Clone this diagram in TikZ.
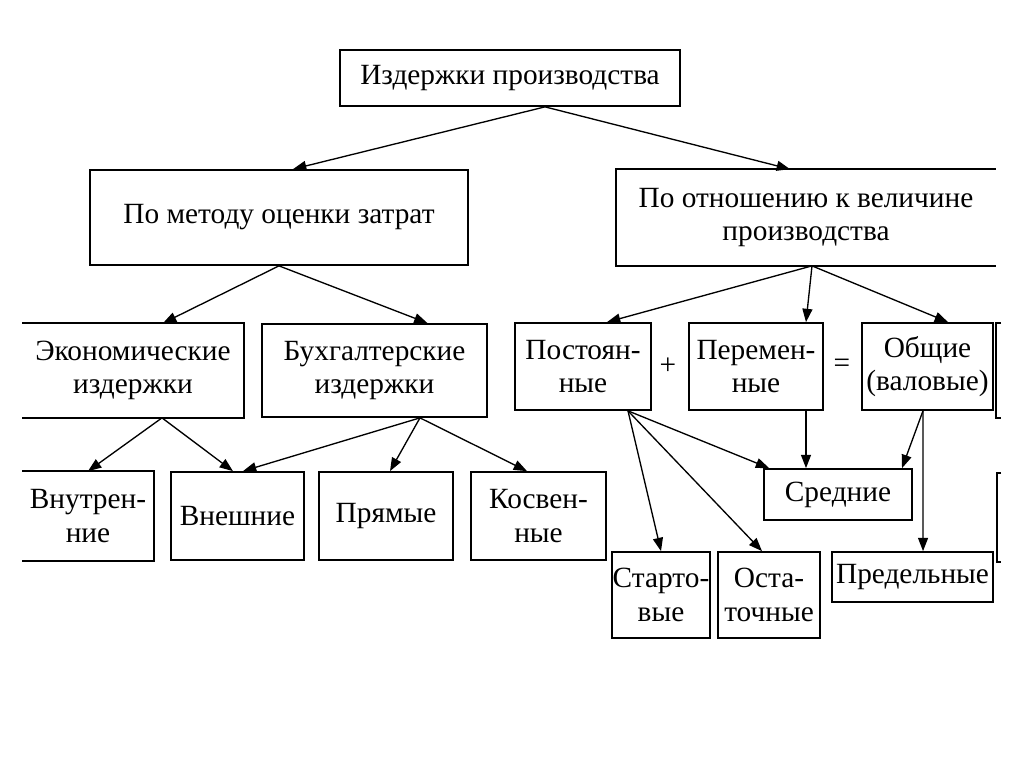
\documentclass[tikz,border=0pt]{standalone}
\usepackage{fontspec}
\setmainfont{Liberation Serif}
\usetikzlibrary{arrows.meta}
\begin{document}
\begin{tikzpicture}[x=0.75pt,y=-0.75pt,
  box/.style={draw, line width=1.3pt, rectangle, inner sep=0pt, align=center,
    font=\fontsize{22}{25}\selectfont},
  openbox/.style={box, draw=none},
  sign/.style={inner sep=0pt, font=\fontsize{22}{25}\selectfont},
  arr/.style={line width=1pt, -{Triangle[length=10pt,width=7.5pt]}},
  edge/.style={line width=1.3pt}]
\useasboundingbox (0,0) rectangle (1024,767);
\fill[white] (0,0) rectangle (1024,767);

% level 0
\node[box, minimum width=255pt, minimum height=42pt] (top) at (510,78) {Издержки производства};
% level 1
\node[box, minimum width=283.5pt, minimum height=71.25pt] (metod) at (279,217.5) {По методу оценки затрат};
\node[openbox, minimum width=283.5pt, minimum height=71.25pt] (otnosh) at (806,217.5) {По отношению к величине\\производства};
\draw[edge] (otnosh.north east) -- (otnosh.north west) -- (otnosh.south west) -- (otnosh.south east);
% level 2 left
\node[openbox, minimum width=165pt, minimum height=69.75pt] (econ) at (133,370.5) {Экономические\\издержки};
\draw[edge] (econ.north west) -- (econ.north east) -- (econ.south east) -- (econ.south west);
\node[box, minimum width=168.75pt, minimum height=69.75pt] (buh) at (374.5,370.5) {Бухгалтерские\\издержки};
% level 3 left
\node[openbox, minimum width=97.5pt, minimum height=66pt] (vnutr) at (88,516) {Внутрен-\\ние};
\draw[edge] (vnutr.north west) -- (vnutr.north east) -- (vnutr.south east) -- (vnutr.south west);
\node[box, minimum width=99.75pt, minimum height=66pt] (vnesh) at (237.5,516) {Внешние};
\node[box, minimum width=100.5pt, minimum height=66pt] (pryam) at (386,516) {Прямые};
\node[box, minimum width=101.25pt, minimum height=66pt] (kosv) at (538.5,516) {Косвен-\\ные};
% level 2 right
\node[box, minimum width=102pt, minimum height=65.25pt] (post) at (583,366.5) {Постоян-\\ные};
\node[sign] (plus) at (668,366) {+};
\node[box, minimum width=100.5pt, minimum height=65.25pt] (perem) at (756,366.5) {Перемен-\\ные};
\node[sign] (eq) at (842,366) {=};
\node[box, minimum width=98.25pt, minimum height=65.25pt] (obsh) at (927.5,366.5) {Общие\\(валовые)};
% level 3 right
\node[box, minimum width=111pt, minimum height=38.25pt] (sredn) at (838,494.5) {Средние};
\node[box, minimum width=73.5pt, minimum height=64.5pt] (start) at (661,595) {Старто-\\вые};
\node[box, minimum width=76.5pt, minimum height=64.5pt] (ostat) at (769,595) {Оста-\\точные};
\node[box, minimum width=120.75pt, minimum height=37.5pt] (predel) at (912.5,577) {Предельные};
% partial boxes at the right edge
\draw[edge] (1001,323) -- (996,323) -- (996,418) -- (1001,418);
\draw[edge] (1001,473) -- (997,473) -- (997,562) -- (1001,562);

% connectors
\draw[arr] ([xshift=26.25pt]top.south) -- ([xshift=10.5pt]metod.north);
\draw[arr] ([xshift=26.25pt]top.south) -- ([xshift=-12pt]otnosh.north);
\draw[arr] (metod.south) -- ([xshift=22.5pt]econ.north);
\draw[arr] (metod.south) -- ([xshift=39.75pt]buh.north);
\draw[arr] ([xshift=21.75pt]econ.south) -- (vnutr.north);
\draw[arr] ([xshift=21.75pt]econ.south) -- ([xshift=-3.4pt]vnesh.north);
\draw[arr] ([xshift=34.1pt]buh.south) -- ([xshift=4.1pt]vnesh.north);
\draw[arr] ([xshift=34.1pt]buh.south) -- ([xshift=3pt]pryam.north);
\draw[arr] ([xshift=34.1pt]buh.south) -- ([xshift=-8.6pt]kosv.north);
\draw[arr] ([xshift=4.5pt]otnosh.south) -- ([xshift=18pt]post.north);
\draw[arr] ([xshift=4.5pt]otnosh.south) -- ([xshift=37.5pt]perem.north);
\draw[arr] ([xshift=4.5pt]otnosh.south) -- ([xshift=15.4pt]obsh.north);
\draw[arr] ([xshift=33.75pt]post.south) -- (start.north);
\draw[arr] ([xshift=33.75pt]post.south) -- ([xshift=-5.25pt]ostat.north);
\draw[arr] ([xshift=33.75pt]post.south) -- ([xshift=4.5pt]sredn.north west);
\draw[arr] ([xshift=37.5pt]perem.south) -- ([xshift=-24pt]sredn.north);
\draw[arr] ([xshift=-3.4pt]obsh.south) -- ([xshift=48pt]sredn.north);
\draw[arr] ([xshift=-3.4pt]obsh.south) -- ([xshift=7.9pt]predel.north);
\end{tikzpicture}
\end{document}
